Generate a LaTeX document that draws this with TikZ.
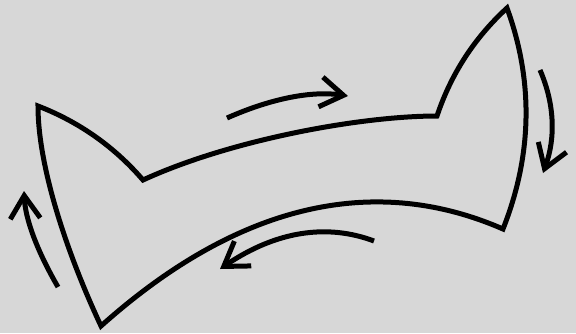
\documentclass[tikz,border=0pt]{standalone}
\usetikzlibrary{arrows.meta}
\definecolor{bg}{RGB}{215,215,215}
\tikzset{
  outline/.style={line width=5pt, line join=miter, miter limit=20},
  rot/.style={line width=5pt, -{Straight Barb[length=23pt,width=30pt,line join=miter]}}
}
\begin{document}
\begin{tikzpicture}[x=1pt,y=-1pt]
\fill[bg] (0,0) rectangle (576,333);
\useasboundingbox (0,0) rectangle (576,333);
\coordinate (A) at (38,106);
\coordinate (B) at (143,180);
\coordinate (C) at (437,116);
\coordinate (D) at (507,8);
\coordinate (E) at (503,229);
\coordinate (F) at (101,326);
\draw[outline] (A) .. controls (79.3,122) and (114.3,146.7) .. (B)
  .. controls (230,140) and (360,116) .. (C)
  .. controls (451,74) and (474.3,38) .. (D)
  .. controls (533.7,81.3) and (532.3,155) .. (E)
  .. controls (400,184) and (262,182) .. (F)
  .. controls (70,260) and (38,170) .. cycle;
% rotation arrows
\coordinate (t1) at (227,118); \coordinate (t2) at (348,96);
\coordinate (r1) at (540,70);  \coordinate (r2) at (543,173);
\coordinate (b1) at (374,241); \coordinate (b2) at (220,269);
\coordinate (l1) at (58,287);  \coordinate (l2) at (24,191);
\draw[rot] (t1) .. controls (272.3,98) and (312.3,90.7) .. (t2);
\draw[rot] (r1) .. controls (554.7,104) and (555.7,138) .. (r2);
\draw[rot] (b1) .. controls (328,223.7) and (277,230.3) .. (b2);
\draw[rot] (l1) .. controls (36.7,250.3) and (25.3,218.7) .. (l2);
\end{tikzpicture}
\end{document}
